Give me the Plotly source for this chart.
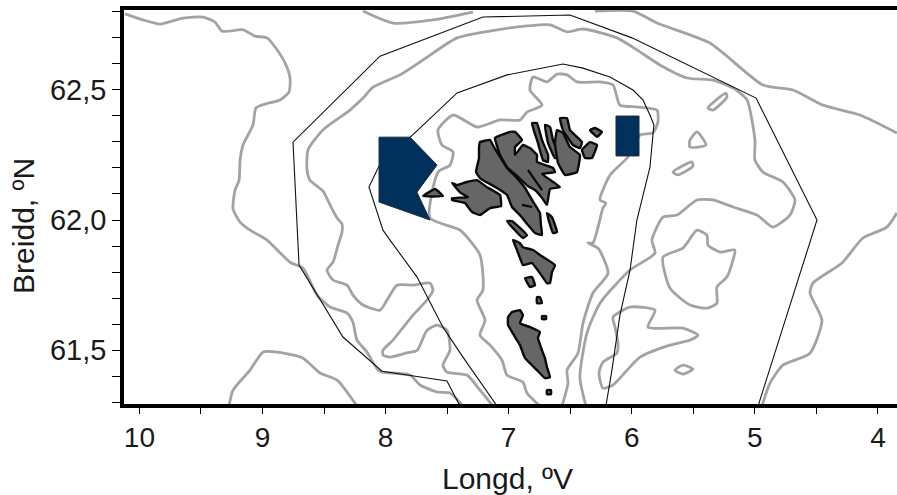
import plotly.graph_objects as go

# All coordinates are (longitude west, latitude north) in degrees
outer_limit = [(4.974,61.286),(4.495,62.0),(4.99,62.468),(5.998,62.699),(6.502,62.787),(7.209,62.779),(8.045,62.629),(8.752,62.299),(8.703,61.827),(8.346,61.551),(8.029,61.42),(7.501,61.382),(7.395,61.286)]
inner_limit = [(7.094,61.286),(7.29,61.416),(7.371,61.474),(7.534,61.589),(7.655,61.701),(7.744,61.781),(7.964,61.923),(8.021,61.961),(8.135,62.127),(8.053,62.207),(7.736,62.346),(7.419,62.488),(7.013,62.557),(6.559,62.599),(6.397,62.583),(6.177,62.549),(5.99,62.499),(5.909,62.461),(5.852,62.403),(5.82,62.365),(5.852,62.203),(5.958,62.0),(6.014,61.808),(6.096,61.635),(6.161,61.424),(6.21,61.286)]

contour_a = [(10.117,62.791),(9.971,62.768),(9.832,62.752),(9.645,62.775),(9.483,62.779),(9.386,62.76),(9.329,62.725),(9.158,62.73),(9.061,62.706),(8.963,62.699),(8.898,62.664),(8.817,62.603),(8.776,62.545),(8.785,62.491),(8.858,62.461),(8.98,62.445),(9.053,62.43),(9.077,62.365),(9.158,62.288),(9.182,62.23),(9.19,62.153),(9.223,62.115),(9.239,62.042),(9.182,61.992),(9.101,61.961),(8.963,61.923),(8.776,61.838),(8.67,61.815),(8.557,61.712),(8.451,61.666),(8.313,61.643),(8.265,61.608),(8.232,61.539),(8.151,61.493),(8.061,61.424),(8.021,61.416),(7.801,61.405),(7.72,61.367),(7.582,61.34),(7.477,61.336),(7.371,61.286)]
contour_b = [(7.127,61.286),(7.233,61.347),(7.339,61.405),(7.501,61.416),(7.534,61.443),(7.477,61.5),(7.501,61.577),(7.582,61.597),(7.663,61.577),(7.744,61.5),(7.826,61.49),(7.964,61.474),(8.021,61.482),(8.021,61.5),(7.94,61.539),(7.777,61.635),(7.663,61.693),(7.615,61.731),(7.639,61.758),(7.777,61.75),(7.907,61.75),(7.988,61.693),(8.045,61.654),(8.183,61.674),(8.265,61.712),(8.313,61.75),(8.427,61.77),(8.476,61.808),(8.427,61.838),(8.386,61.904),(8.354,61.954),(8.354,61.985),(8.394,62.008),(8.451,62.058),(8.508,62.111),(8.614,62.153),(8.638,62.192),(8.63,62.269),(8.508,62.346),(8.289,62.422),(8.183,62.468),(8.102,62.51),(7.883,62.557),(7.696,62.614),(7.419,62.699),(7.094,62.73),(6.851,62.745),(6.664,62.749),(6.526,62.722),(6.397,62.733),(6.12,62.699),(5.958,62.653),(5.771,62.595),(5.551,62.545),(5.34,62.537),(5.178,62.507),(5.064,62.461),(4.999,62.307),(4.999,62.23),(4.934,62.184),(4.772,62.146),(4.674,62.077),(4.715,62.019),(4.853,61.973),(4.982,62.019),(5.178,62.05),(5.34,62.077),(5.47,62.077),(5.633,62.019),(5.746,62.011),(5.836,61.923),(5.811,61.873),(6.014,61.808),(6.258,61.681),(6.364,61.566),(6.421,61.397),(6.372,61.286)]
contour_c = [(6.746,61.286),(6.851,61.336),(6.884,61.378),(7.013,61.405),(7.054,61.462),(7.151,61.52),(7.233,61.558),(7.192,61.616),(7.257,61.693),(7.209,61.731),(7.233,61.866),(7.395,61.961),(7.639,62.008),(7.574,62.184),(7.477,62.211),(7.452,62.261),(7.542,62.288),(7.574,62.346),(7.452,62.403),(7.257,62.357),(7.07,62.384),(6.908,62.384),(6.851,62.414),(6.729,62.441),(6.827,62.499),(6.802,62.549),(6.689,62.53),(6.607,62.56),(6.526,62.557),(6.445,62.53),(6.258,62.53),(6.152,62.518),(6.096,62.441),(5.958,62.434),(5.795,62.422),(5.787,62.376),(5.828,62.334),(5.933,62.326),(6.031,62.242),(6.177,62.172),(6.258,62.077),(6.21,62.065),(6.234,62.046),(6.315,61.912),(6.356,61.912),(6.274,61.892),(6.193,61.796),(6.315,61.72),(6.396,61.604),(6.437,61.489),(6.526,61.424),(6.518,61.374),(6.567,61.286)]
contour_d = [(6.299,62.802),(5.99,62.802),(5.795,62.756),(5.365,62.679),(4.934,62.518),(4.69,62.499),(4.447,62.441),(4.146,62.403),(3.846,62.334)]
contour_e = [(8.183,62.802),(7.94,62.756),(7.615,62.768),(7.29,62.798)]
contour_f = [(3.846,62.027),(3.927,61.973),(4.122,61.931),(4.292,61.835),(4.528,61.758),(4.552,61.72),(4.455,61.616),(4.552,61.489),(4.772,61.443),(4.877,61.374),(4.942,61.286)]
contour_g = [(9.272,61.286),(9.239,61.347),(9.101,61.424),(8.996,61.493),(8.882,61.493),(8.67,61.47),(8.533,61.413),(8.394,61.386),(8.232,61.286)]
contour_h = [(5.47,61.961),(5.389,61.942),(5.381,61.904),(5.283,61.877),(5.162,61.885),(5.178,61.846),(5.227,61.781),(5.308,61.743),(5.308,61.681),(5.389,61.662),(5.527,61.674),(5.69,61.739),(5.746,61.858),(5.584,61.892),(5.47,61.961)]
contour_i = [(6.152,61.627),(6.014,61.666),(5.811,61.654),(5.868,61.589),(5.584,61.585),(5.462,61.558),(5.527,61.539),(5.69,61.52),(5.933,61.474),(6.152,61.367),(6.234,61.355),(6.266,61.413),(6.234,61.455),(6.12,61.49),(6.112,61.528),(6.136,61.589),(6.152,61.627)]
contour_j = [(5.649,61.424),(5.584,61.443),(5.503,61.428),(5.584,61.409),(5.649,61.424)]
contour_k = [(5.381,62.43),(5.235,62.487),(5.227,62.472),(5.34,62.422),(5.381,62.43)]
contour_l = [(5.47,62.338),(5.397,62.288),(5.527,62.28),(5.527,62.307),(5.47,62.338)]
contour_m = [(5.665,62.184),(5.511,62.223),(5.503,62.207),(5.625,62.173),(5.665,62.184)]
contours = [contour_a, contour_b, contour_c, contour_d, contour_e, contour_f, contour_g,
            contour_h, contour_i, contour_j, contour_k, contour_l, contour_m]

area_west = [(8.053,62.318),(7.801,62.318),(7.582,62.211),(7.745,62.107),(7.639,62.0),(8.053,62.069)]
area_east = [(6.128,62.399),(5.941,62.399),(5.941,62.246),(6.128,62.246)]

vagar = [(7.46,62.142),(7.42,62.134),(7.339,62.146),(7.257,62.153),(7.176,62.126),(7.07,62.096),(7.062,62.054),(7.151,62.046),(7.233,62.019),(7.298,62.031),(7.355,62.065),(7.46,62.077),(7.46,62.084),(7.33,62.088),(7.39,62.104)]
mykines = [(7.696,62.092),(7.598,62.119),(7.534,62.092)]
streymoy = [(7.233,62.299),(7.151,62.307),(7.119,62.28),(7.07,62.242),(7.013,62.2),(6.932,62.161),(6.867,62.123),(6.81,62.077),(6.746,62.027),(6.738,61.981),(6.729,61.942),(6.786,61.95),(6.843,61.981),(6.908,62.019),(6.973,62.05),(7.013,62.096),(7.095,62.123),(7.168,62.142),(7.233,62.161),(7.265,62.184),(7.241,62.238),(7.241,62.276)]
eysturoy = [(7.111,62.315),(6.989,62.338),(6.948,62.338),(6.892,62.307),(6.948,62.28),(6.948,62.25),(6.884,62.288),(6.827,62.276),(6.77,62.25),(6.77,62.223),(6.64,62.2),(6.624,62.184),(6.729,62.177),(6.583,62.127),(6.664,62.119),(6.689,62.058),(6.729,62.085),(6.786,62.115),(6.843,62.13),(6.932,62.169),(7.013,62.203),(7.07,62.25)]
kalsoy = [(6.811,62.372),(6.77,62.372),(6.729,62.307),(6.68,62.25),(6.68,62.223),(6.721,62.23),(6.762,62.296)]
kunoy = [(6.705,62.365),(6.664,62.357),(6.64,62.307),(6.583,62.242),(6.624,62.238),(6.68,62.296)]
bordoy = [(6.607,62.345),(6.559,62.334),(6.502,62.28),(6.421,62.25),(6.445,62.184),(6.542,62.173),(6.599,62.219),(6.624,62.296)]
vidoy = [(6.583,62.391),(6.526,62.391),(6.502,62.345),(6.404,62.299),(6.421,62.276),(6.478,62.288),(6.559,62.345)]
svinoy = [(6.404,62.269),(6.339,62.299),(6.282,62.288),(6.323,62.238),(6.38,62.238)]
fugloy = [(6.339,62.345),(6.299,62.353),(6.242,62.338),(6.282,62.319)]
hestur = [(7.013,61.996),(6.973,61.996),(6.851,61.942),(6.884,61.931)]
nolsoy = [(6.689,62.027),(6.648,62.011),(6.607,61.954),(6.64,61.95)]
sandoy = [(6.965,61.923),(6.908,61.911),(6.884,61.896),(6.802,61.885),(6.746,61.866),(6.624,61.827),(6.648,61.8),(6.664,61.758),(6.689,61.758),(6.746,61.796),(6.81,61.835),(6.884,61.827),(6.908,61.854),(6.932,61.885)]
skuvoy = [(6.867,61.777),(6.81,61.781),(6.786,61.75),(6.827,61.743)]
stora_dimun = [(6.77,61.704),(6.746,61.704),(6.729,61.681),(6.77,61.681)]
litla_dimun = [(6.729,61.631),(6.696,61.631),(6.696,61.62),(6.729,61.62)]
suduroy = [(7.005,61.627),(6.973,61.647),(6.908,61.654),(6.884,61.635),(6.908,61.604),(6.827,61.589),(6.746,61.57),(6.762,61.547),(6.729,61.5),(6.705,61.47),(6.689,61.436),(6.664,61.397),(6.705,61.393),(6.77,61.424),(6.867,61.47),(6.908,61.52),(6.948,61.551),(7.005,61.597)]
sumba_holm = [(6.689,61.347),(6.656,61.347),(6.656,61.332),(6.689,61.332)]
islands = [vagar, mykines, streymoy, eysturoy, kalsoy, kunoy, bordoy, vidoy, svinoy, fugloy,
           hestur, nolsoy, sandoy, skuvoy, stora_dimun, litla_dimun, suduroy, sumba_holm]
fjord_skala = [(6.843,62.192),(6.729,62.115)]
fjord_streymoy = [(6.892,62.058),(6.81,62.05)]
fjords = [fjord_skala, fjord_streymoy]

lon_ticks = [10, 9.5, 9, 8.5, 8, 7.5, 7, 6.5, 6, 5.5, 5, 4.5, 4]
lon_labels = ["10", "", "9", "", "8", "", "7", "", "6", "", "5", "", "4"]
lat_ticks = [61.3, 61.4, 61.5, 61.6, 61.7, 61.8, 61.9, 62.0, 62.1, 62.2, 62.3, 62.4, 62.5, 62.6, 62.7, 62.8]
lat_labels = ["", "", "61,5", "", "", "", "", "62,0", "", "", "", "", "62,5", "", "", ""]
x_title = "Longd, ºV"
y_title = "Breidd, ºN"


def xy(points, close=False):
    pts = list(points) + ([points[0]] if close else [])
    return [p[0] for p in pts], [p[1] for p in pts]


fig = go.Figure()
for c in contours:
    x, y = xy(c)
    fig.add_trace(go.Scatter(x=x, y=y, mode="lines",
                             line=dict(color="#a3a3a3", width=2.8, shape="spline", smoothing=0.6)))
for b in (outer_limit, inner_limit):
    x, y = xy(b)
    fig.add_trace(go.Scatter(x=x, y=y, mode="lines", line=dict(color="#111111", width=1.1)))
for a in (area_west, area_east):
    x, y = xy(a, close=True)
    fig.add_trace(go.Scatter(x=x, y=y, mode="lines", fill="toself", fillcolor="#02305c",
                             line=dict(color="#1a2a3a", width=1)))
for i in islands:
    x, y = xy(i, close=True)
    fig.add_trace(go.Scatter(x=x, y=y, mode="lines", fill="toself", fillcolor="#666666",
                             line=dict(color="#0a0a0a", width=2.4, shape="spline", smoothing=0.3)))
for f in fjords:
    x, y = xy(f)
    fig.add_trace(go.Scatter(x=x, y=y, mode="lines", line=dict(color="#0a0a0a", width=2.2)))

family = "Liberation Sans, Arial, sans-serif"
x_tick_font = dict(family=family, size=28, color="#1a1a1a")
y_tick_font = dict(family=family, size=29, color="#1a1a1a")
title_font = dict(family=family, size=30, color="#1a1a1a")
fig.update_layout(
    width=897, height=495, showlegend=False,
    margin=dict(l=124, r=0, t=10, b=91),
    paper_bgcolor="white", plot_bgcolor="white",
    hovermode=False,
    annotations=[
        dict(text=x_title, xref="paper", yref="paper", x=0.4955, y=-0.188, xanchor="center",
             yanchor="middle", showarrow=False, font=title_font),
        dict(text=y_title, xref="paper", yref="paper", x=-0.1294, y=0.452, xanchor="center",
             yanchor="middle", textangle=-90, showarrow=False, font=title_font),
    ],
)
fig.update_xaxes(range=[10.125, 3.845], tickmode="array", tickvals=lon_ticks, ticktext=lon_labels,
                 showgrid=False, zeroline=False, showline=True, linecolor="black", linewidth=3.5,
                 mirror=True, ticks="outside", ticklen=6, tickwidth=1, tickcolor="black",
                 tickfont=x_tick_font)
fig.update_yaxes(range=[61.294, 62.806], tickmode="array", tickvals=lat_ticks, ticktext=lat_labels,
                 showgrid=False, zeroline=False, showline=True, linecolor="black", linewidth=3.5,
                 ticks="outside", ticklen=8, tickwidth=1, tickcolor="black",
                 tickfont=y_tick_font)
fig.write_html("out.html", post_script="document.body.style.margin='0';",
               config={"displayModeBar": False})
